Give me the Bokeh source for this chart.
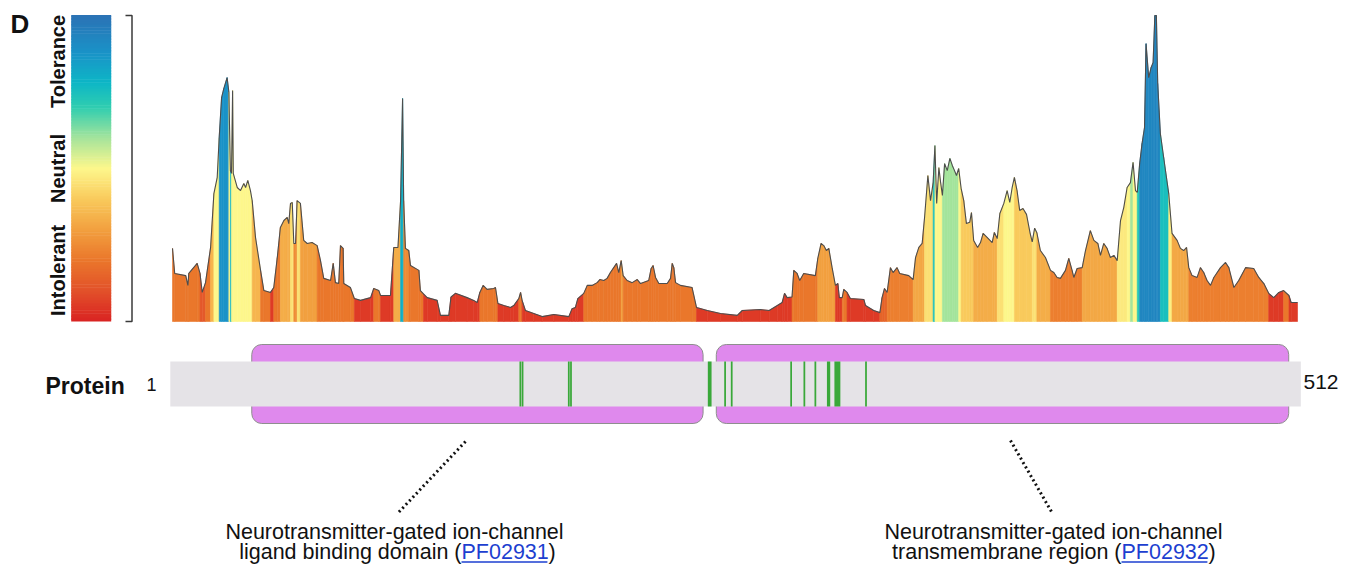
import numpy as np
from bokeh.plotting import figure
from bokeh.models import Range1d
from bokeh.core.properties import value
from bokeh.embed import file_html
from bokeh.resources import INLINE

# ---------------- data ----------------
protein_length = 512

# tolerance landscape: residue position -> tolerance score (0 = intolerant, 1 = tolerant)
pos = [
    1, 2, 7, 8, 8.4, 12.2, 13.5, 14.5, 16, 18.3,
    19.8, 21.3, 22.2, 23.3, 24.3, 25.8, 26.6, 27.3, 27.8, 28.3,
    28.6, 30.4, 31.9, 33.4, 34.2, 35.2, 36.4, 37.2, 38.7, 41,
    42.5, 45.5, 47, 48.6, 50, 51.6, 53.1, 53.8, 54.6, 55.4,
    56.1, 56.9, 57.6, 59.1, 60.6, 62.2, 64.4, 66.7, 68.2, 69.7,
    72.8, 74, 75, 76.5, 77.3, 78.5, 78.8, 81.8, 83.6, 86.4,
    91, 92.4, 94.7, 95.5, 100, 101.5, 103.4, 104.6, 105.5, 106,
    106.8, 108.3, 109.1, 112.9, 113.6, 115, 116.7, 121.2, 122.7, 126.5,
    127.5, 129.5, 134.8, 137.8, 139.4, 140.6, 142.1, 143.9, 146.9, 147.7,
    148.8, 151.5, 154.5, 156, 158.3, 159.1, 159.8, 161.3, 165.1, 168.9,
    174.2, 181, 182.5, 184, 185.1, 187.8, 189.4, 191.6, 193.9, 195.1,
    196.9, 198.4, 199.9, 201.4, 202.7, 203.7, 204.8, 205.7, 207.5, 209.8,
    212.1, 213.6, 217.3, 218.4, 219.3, 220.4, 221.9, 225.7, 227.2, 228,
    228.7, 229.5, 231.7, 237, 239, 243.9, 249.9, 257.5, 259.8, 268,
    272, 275.7, 277.9, 279, 280.2, 282.4, 283.2, 284.7, 285.9, 287.7,
    293, 294.1, 295.6, 296.8, 298, 299.1, 300.6, 302.1, 303.2, 303.9,
    305.2, 305.9, 307.4, 308.9, 315, 315.8, 319.5, 322.3, 323.3, 324.4,
    325.6, 327.1, 328.3, 330.1, 331.3, 335.4, 337.4, 338.5, 340, 341.5,
    342.6, 344.1, 345.3, 346.5, 347.3, 348.1, 349.1, 349.9, 350.7, 351.7,
    352.9, 354.1, 355.2, 356.2, 357.1, 358.1, 359.2, 360.4, 361.6, 363.1,
    363.9, 364.9, 366.7, 368, 369.2, 371, 373.3, 374.3, 375.6, 376.8,
    378.6, 380.1, 381.3, 382.4, 383.4, 384.6, 385.8, 387.3, 388.9, 390.5,
    391.5, 392.6, 393.6, 395.2, 397.5, 399.8, 401.3, 402.8, 404.3, 406.6,
    408.1, 409.6, 410.4, 411.9, 414.2, 415.7, 417.9, 419.5, 421.3, 422.5,
    424, 425.5, 427, 428.6, 430.1, 431.6, 433.1, 434.6, 436.1, 437.3,
    438.4, 439.2, 440.3, 441.4, 442.5, 443.2, 444.4, 445.5, 446.4, 447.2,
    447.9, 448.5, 449.7, 451.2, 453.5, 455, 457.3, 458.8, 460.3, 461.6,
    462.6, 464.1, 466.4, 467.9, 469.4, 470.9, 472.5, 474, 477, 479.3,
    480.8, 483.1, 485.3, 488.4, 492.1, 494.4, 496.7, 498.9, 501.2, 503.5,
    505.7, 508.1, 509.1, 512,
]
score = [
    0.239, 0.157, 0.150, 0.118, 0.157, 0.19, 0.157, 0.095, 0.127, 0.242,
    0.418, 0.47, 0.6, 0.732, 0.761, 0.797, 0.75, 0.493, 0.484, 0.755,
    0.484, 0.438, 0.428, 0.451, 0.438, 0.461, 0.428, 0.395, 0.275, 0.167,
    0.101, 0.095, 0.111, 0.209, 0.307, 0.33, 0.34, 0.32, 0.386, 0.389,
    0.255, 0.255, 0.395, 0.386, 0.265, 0.255, 0.258, 0.248, 0.2, 0.141,
    0.134, 0.19, 0.127, 0.124, 0.248, 0.239, 0.124, 0.111, 0.075, 0.069,
    0.078, 0.108, 0.101, 0.085, 0.085, 0.242, 0.242, 0.395, 0.729, 0.395,
    0.239, 0.232, 0.183, 0.167, 0.101, 0.09, 0.078, 0.069, 0.02, 0.02,
    0.08, 0.092, 0.078, 0.069, 0.062, 0.095, 0.118, 0.105, 0.108, 0.111,
    0.059, 0.052, 0.046, 0.052, 0.075, 0.095, 0.069, 0.036, 0.026, 0.016,
    0.023, 0.016, 0.042, 0.046, 0.075, 0.092, 0.118, 0.118, 0.127, 0.137,
    0.134, 0.141, 0.16, 0.176, 0.19, 0.16, 0.199, 0.150, 0.134, 0.127,
    0.137, 0.124, 0.134, 0.173, 0.183, 0.144, 0.124, 0.124, 0.141, 0.19,
    0.176, 0.127, 0.118, 0.111, 0.046, 0.036, 0.026, 0.02, 0.036, 0.039,
    0.036, 0.052, 0.062, 0.092, 0.078, 0.08, 0.167, 0.157, 0.134, 0.157,
    0.150, 0.206, 0.255, 0.248, 0.232, 0.239, 0.176, 0.118, 0.124, 0.078,
    0.078, 0.105, 0.095, 0.075, 0.072, 0.052, 0.036, 0.029, 0.078, 0.108,
    0.095, 0.176, 0.16, 0.176, 0.157, 0.150, 0.137, 0.209, 0.242, 0.255,
    0.34, 0.477, 0.395, 0.454, 0.575, 0.386, 0.503, 0.454, 0.412, 0.516,
    0.493, 0.533, 0.51, 0.493, 0.477, 0.5, 0.435, 0.395, 0.32, 0.324,
    0.356, 0.265, 0.242, 0.258, 0.288, 0.275, 0.258, 0.291, 0.271, 0.353,
    0.386, 0.428, 0.389, 0.438, 0.471, 0.428, 0.363, 0.369, 0.35, 0.29,
    0.26, 0.305, 0.29, 0.232, 0.209, 0.167, 0.16, 0.144, 0.141, 0.167,
    0.206, 0.167, 0.144, 0.173, 0.176, 0.232, 0.297, 0.265, 0.255, 0.216,
    0.255, 0.239, 0.209, 0.216, 0.199, 0.33, 0.373, 0.438, 0.454, 0.52,
    0.428, 0.422, 0.516, 0.582, 0.634, 0.908, 0.797, 0.83, 0.846, 1.0,
    1.0, 0.778, 0.614, 0.536, 0.418, 0.288, 0.265, 0.239, 0.232, 0.242,
    0.176, 0.150, 0.144, 0.176, 0.16, 0.134, 0.118, 0.144, 0.176, 0.193,
    0.176, 0.111, 0.134, 0.176, 0.173, 0.144, 0.124, 0.092, 0.078, 0.095,
    0.101, 0.085, 0.062, 0.062,
]
assert len(pos) == len(score)

# colour bands of the landscape (start residue, tone on the tolerance scale)
band_start = [
    1, 13.5, 16, 18.3, 19.8, 22.2, 26.6, 27.3, 27.8, 37.2,
    41, 45.5, 47, 50, 54.6, 56.1, 57.6, 59.1, 66.7, 83.6,
    92.4, 95.5, 101.5, 104.6, 106, 108.3, 115, 140.6, 148.8, 158.3,
    159.8, 187.8, 204.8, 205.7, 239, 282.4, 294.1, 302.1, 305.2, 307.4,
    322.3, 325.6, 337.4, 342.6, 346.5, 347.3, 350.7, 358.1, 359.2, 364.9,
    375.6, 378.6, 383.4, 391.5, 393.6, 399.8, 414.2, 430.1, 434.6, 436.1,
    437.3, 439.2, 440.3, 449.7, 453.5, 455, 462.6, 498.9, 505.7, 508.1,
]
band_tone = [
    0.2, 0.12, 0.2, 0.35, 0.5, 0.88, 0.5, 0.78, 0.5, 0.35,
    0.2, 0.05, 0.2, 0.33, 0.45, 0.25, 0.45, 0.3, 0.2, 0.05,
    0.2, 0.05, 0.33, 0.8, 0.25, 0.2, 0.05, 0.2, 0.05, 0.2,
    0.05, 0.2, 0.3, 0.2, 0.05, 0.2, 0.3, 0.05, 0.2, 0.05,
    0.15, 0.22, 0.32, 0.45, 0.75, 0.5, 0.6, 0.5, 0.4, 0.33,
    0.45, 0.5, 0.4, 0.45, 0.33, 0.22, 0.32, 0.47, 0.5, 0.6,
    0.5, 0.72, 0.92, 0.75, 0.48, 0.32, 0.22, 0.05, 0.2, 0.05,
]
assert len(band_start) == len(band_tone)

# variants marked on the protein bar
variant_pos = [159, 160, 181, 182, 245, 252, 255, 282, 288, 293, 299, 303, 316]
variant_width = [0.8, 0.8, 0.8, 0.8, 1.7, 0.8, 0.8, 0.8, 0.8, 0.8, 1.5, 2.7, 0.8]

# Pfam domains
domain_start = [37, 248]
domain_end = [242, 508]
domain_title = ["Neurotransmitter-gated ion-channel", "Neurotransmitter-gated ion-channel"]
domain_desc = ["ligand binding domain (", "transmembrane region ("]
domain_pfam = ["PF02931", "PF02932"]

scale_labels = ["Intolerant", "Neutral", "Tolerance"]
scale_label_at = [0.167, 0.5, 0.85]

# ---------------- styling / layout ----------------
stops = [(0.0, "#d92322"), (0.1, "#e2512a"), (0.2, "#ea772b"), (0.3, "#f2a03f"),
         (0.4, "#f9ca5c"), (0.5, "#fdf78c"), (0.6, "#a4e49c"), (0.7, "#2fcdb0"),
         (0.78, "#0db6c6"), (0.88, "#1a92c7"), (1.0, "#2b72b5")]


def hex2rgb(h):
    return tuple(int(h[i:i + 2], 16) for i in (1, 3, 5))


def cmap(t):
    t = min(max(t, 0.0), 1.0)
    for (a, ca), (b, cb) in zip(stops[:-1], stops[1:]):
        if t <= b:
            f = (t - a) / (b - a)
            c1, c2 = hex2rgb(ca), hex2rgb(cb)
            r, g, bl = (round(c1[k] + (c2[k] - c1[k]) * f) for k in range(3))
            return "#%02x%02x%02x" % (r, g, bl)
    return stops[-1][1]


W, H = 1356, 566
PX1, PXR = 172.0, 2.2016   # screen x of residue 1, pixels per residue


def rx(px):  # page pixel x -> residue coordinate
    return 1 + (px - PX1) / PXR


def ly(py):  # page pixel y -> layout y
    return H - py


FONT = value("Liberation Sans")

p = figure(width=W, height=H, x_range=Range1d(rx(0), rx(W)), y_range=Range1d(0, H),
           min_border=0, toolbar_location=None, output_backend="svg",
           x_axis_type=None, y_axis_type=None, outline_line_color=None,
           background_fill_color="white", border_fill_color="white")
p.extra_y_ranges = {"score": Range1d(-(H - 321) / 306.0, 1 + 15 / 306.0)}

# ---- colour scale bar ----
n = 200
cb_b = [i / n for i in range(n)]
cb_t = [(i + 1) / n + 0.002 for i in range(n)]
cb_c = [cmap((i + 0.5) / n) for i in range(n)]
p.quad(left=rx(70.7), right=rx(110.7), bottom=cb_b, top=cb_t, fill_color=cb_c,
       line_color=None, y_range_name="score")

p.text(x=[rx(57)] * 3, y=scale_label_at, text=scale_labels, angle=np.pi / 2,
       text_align="center", text_baseline="alphabetic", text_font=FONT,
       text_font_style="bold", text_font_size="20px", text_color="#111111",
       y_range_name="score")

p.line(x=[rx(125), rx(131.5), rx(131.5), rx(125)], y=[1.0, 1.0, 0.0, 0.0],
       line_color="#3a3a3a", line_width=1.5, y_range_name="score")

p.text(x=[rx(10)], y=[ly(23)], text=["D"], text_font=FONT, text_font_style="bold",
       text_font_size="26px", text_color="#111111", text_baseline="alphabetic")

# ---- tolerance landscape ----
def tone_at(x):
    t = band_tone[0]
    for s, tv in zip(band_start, band_tone):
        if s <= x:
            t = tv
    return t


xs, ys, cols = [], [], []
for i in range(len(pos) - 1):
    x0, x1 = pos[i], pos[i + 1]
    xs.append([x0, x0, x1, x1])
    ys.append([0, score[i], score[i + 1], 0])
    cols.append(cmap(tone_at((x0 + x1) / 2)))
p.patches(xs, ys, fill_color=cols, line_color=cols, line_width=0.6, y_range_name="score")
p.line(pos, score, line_color="#4d4d4d", line_width=1.1, y_range_name="score")

# ---- protein bar ----
p.quad(left=domain_start, right=domain_end, bottom=ly(423), top=ly(344),
       fill_color="#df89ed", line_color="#8e8e8e", line_width=1, border_radius=10)
p.quad(left=[0], right=[protein_length + 1.5], bottom=ly(406), top=ly(361),
       fill_color="#e5e3e7", line_color=None)
p.quad(left=[v - w / 2 for v, w in zip(variant_pos, variant_width)],
       right=[v + w / 2 for v, w in zip(variant_pos, variant_width)],
       bottom=ly(406), top=ly(361), fill_color="#3aa83a", line_color=None)

p.text(x=[rx(45)], y=[ly(385)], text=["Protein"], text_font=FONT, text_font_style="bold",
       text_font_size="23px", text_color="#111111", text_baseline="alphabetic")
p.text(x=[rx(146)], y=[ly(384)], text=["1"], text_font=FONT, text_font_size="18px",
       text_color="#111111", text_baseline="alphabetic")
p.text(x=[rx(1303)], y=[ly(381.5)], text=[str(protein_length)], text_font=FONT,
       text_font_size="21px", text_color="#111111", text_baseline="alphabetic")

# ---- domain annotations ----
p.segment(x0=[rx(465), rx(1010)], y0=[ly(441), ly(440)], x1=[rx(398), rx(1052)],
          y1=[ly(512), ly(513)], line_color="#111111", line_width=3, line_dash="2 3")

title_cx = [rx(394), rx(1053)]
pf_x = [rx(461), rx(1121)]
pf_w = 87 / PXR
FS = "21.5px"
L1, L2 = 531.5, 551.5
p.text(x=title_cx, y=[ly(L1)] * 2, text=domain_title, text_font=FONT, text_font_size=FS,
       text_color="#111111", text_align="center", text_baseline="alphabetic")
p.text(x=pf_x, y=[ly(L2)] * 2, text=domain_desc, text_font=FONT, text_font_size=FS,
       text_color="#111111", text_align="right", text_baseline="alphabetic")
p.text(x=pf_x, y=[ly(L2)] * 2, text=domain_pfam, text_font=FONT, text_font_size=FS,
       text_color="#1d3fd0", text_align="left", text_baseline="alphabetic")
p.text(x=[x + pf_w for x in pf_x], y=[ly(L2)] * 2, text=[")", ")"], text_font=FONT,
       text_font_size=FS, text_color="#111111", text_align="left", text_baseline="alphabetic")
p.segment(x0=pf_x, y0=[ly(561.5)] * 2, x1=[x + pf_w - 0.5 for x in pf_x], y1=[ly(561.5)] * 2,
          line_color="#1d3fd0", line_width=1.5)

open("out.html", "w").write(file_html(p, INLINE))
